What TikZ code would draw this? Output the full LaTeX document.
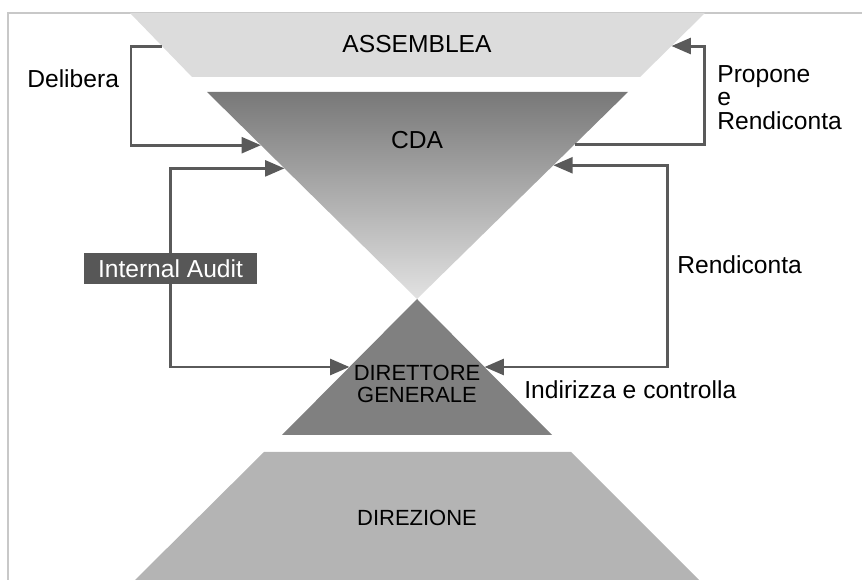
\documentclass[tikz,border=0pt]{standalone}
\usepackage{fontspec}
\setmainfont{Liberation Sans}
\usepackage{xcolor}
\usepackage{tikz}
\usetikzlibrary{arrows.meta, calc}

\definecolor{flowgray}{HTML}{5A5A5A}
\definecolor{assgray}{HTML}{DCDCDC}
\definecolor{cdatop}{HTML}{787878}
\definecolor{cdabot}{HTML}{E2E2E2}
\definecolor{dggray}{HTML}{808080}
\definecolor{dirgray}{HTML}{B4B4B4}
\definecolor{boxgray}{HTML}{575757}
\definecolor{framegray}{HTML}{C8C8C8}

\begin{document}
\begin{tikzpicture}[
    x=0.02cm, y=-0.02cm,
    txt/.style={font=\fontsize{14}{13.5}\selectfont, inner sep=0pt},
    small/.style={font=\fontsize{12.5}{13}\selectfont, inner sep=0pt, align=center},
    flow/.style={draw=flowgray, line width=1.7pt, -{Triangle[length=11pt, width=9pt]}},
    both/.style={flow, {Triangle[length=11pt, width=9pt]}-{Triangle[length=11pt, width=9pt]}},
    auditbox/.style={fill=boxgray, text=white, minimum width=99pt, minimum height=17.6pt, inner sep=0pt, font=\fontsize{14}{14}\selectfont}
]
\useasboundingbox (0,0) rectangle (862,580);

% Frame
\draw[framegray, line width=0.6pt] (8,580) -- (8,13) -- (862,13);

% Shapes
\coordinate (assTL) at (130,13);
\coordinate (assTR) at (705,13);
\coordinate (assBR) at (640,77);
\coordinate (assBL) at (192,77);
\fill[assgray] (assTL) -- (assTR) -- (assBR) -- (assBL) -- cycle;

\coordinate (cdaTL) at (207,92);
\coordinate (cdaTR) at (628,92);
\coordinate (apex) at (417,299);
\shade[top color=cdatop, bottom color=cdabot] (cdaTL) -- (cdaTR) -- (apex) -- cycle;

\coordinate (dgBL) at (282,435);
\coordinate (dgBR) at (552,435);
\fill[dggray] (apex) -- (dgBR) -- (dgBL) -- cycle;

\coordinate (dirTL) at (264,452);
\coordinate (dirTR) at (571,452);
\coordinate (dirBR) at (699,580);
\coordinate (dirBL) at (135,580);
\fill[dirgray] (dirTL) -- (dirTR) -- (dirBR) -- (dirBL) -- cycle;

% Nodes
\node[txt] (ass) at (417,44) {ASSEMBLEA};
\node[txt] (cda) at (417,140) {CDA};
\node[small] (dg) at (417,384) {DIRETTORE\\GENERALE};
\node[small] (dir) at (417,518) {DIREZIONE};
\node[auditbox] (audit) at (170.5,268.5) {Internal Audit};

% Connection points
\coordinate (assL) at ($(assTL)!.516!(assBL)$);
\coordinate (assR) at ($(assTR)!.516!(assBR)$);
\coordinate (cdaL1) at ($(cdaTL)!.257!(apex)$);
\coordinate (cdaL2) at ($(cdaTL)!.369!(apex)$);
\coordinate (cdaR1) at ($(cdaTR)!.252!(apex)$);
\coordinate (cdaR2) at ($(cdaTR)!.354!(apex)$);
\coordinate (dgL) at ($(apex)!.5!(dgBL)$);
\coordinate (dgR) at ($(apex)!.5!(dgBR)$);

% Edges
\draw[flow] (assL) -- ++(-31,0) |- (cdaL1);
\draw[flow] (audit.north) |- (cdaL2);
\draw[flow] (audit.south) |- (dgL);
\draw[flow] (cdaR1) -- ++(130,0) |- (assR);
\draw[both] (dgR) -- ++(183,0) |- (cdaR2);

% Labels
\node[txt, anchor=base west] (delibera) at (27,88) {Delibera};
\node[txt, anchor=north west, align=left] (propone) at (717,65) {Propone\\e\\Rendiconta};
\node[txt, anchor=west] (rend) at (677,265) {Rendiconta};
\node[txt, anchor=west] (indir) at (524,390) {Indirizza e controlla};

\end{tikzpicture}
\end{document}
